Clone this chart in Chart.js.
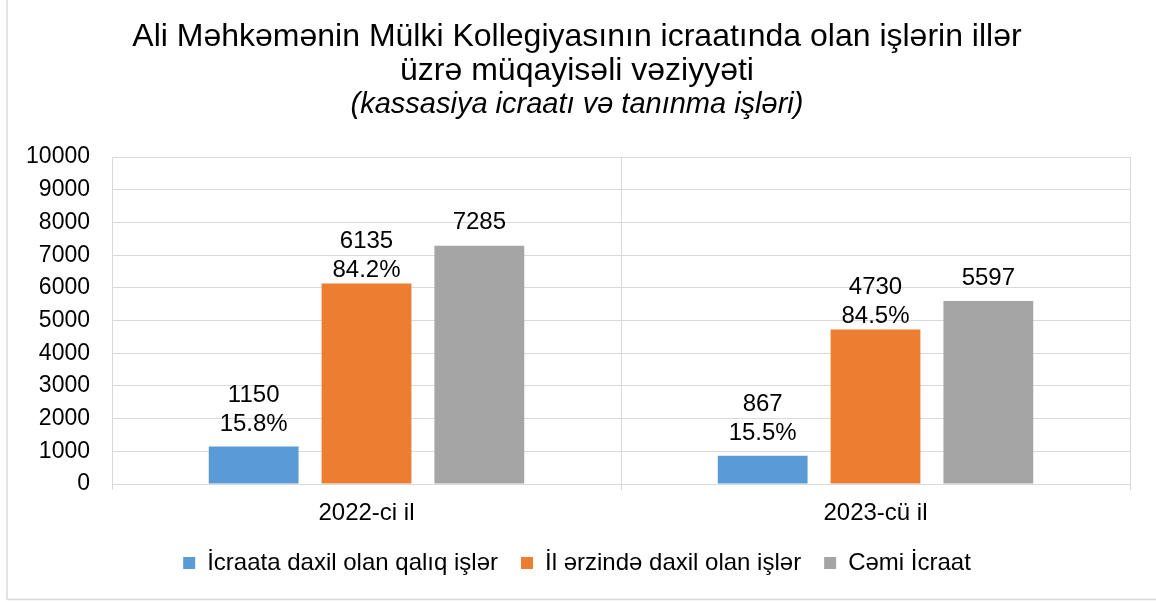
<!DOCTYPE html>
<html>
<head>
<meta charset="utf-8">
<script src="https://cdn.jsdelivr.net/npm/chart.js@4.4.1/dist/chart.umd.min.js"></script>
<style>
    html, body { margin: 0; padding: 0; background: #fff; }
    #wrap { width: 1156px; height: 602px; }
</style>
</head>
<body>
<div id="wrap"><canvas id="chart" width="1156" height="602"></canvas></div>
<script>
// ============================================
// Data
// ============================================
const categories = ['2022-ci il', '2023-cü il'];
const seriesNames = ['İcraata daxil olan qalıq işlər', 'İl ərzində daxil olan işlər', 'Cəmi İcraat'];
const remainingCases = [1150, 867];
const incomingCases = [6135, 4730];
const totalCases = [7285, 5597];
const remainingShare = ['15.8%', '15.5%'];
const incomingShare = ['84.2%', '84.5%'];
const yTicks = [0, 1000, 2000, 3000, 4000, 5000, 6000, 7000, 8000, 9000, 10000];

const FONT = '"Liberation Sans", Arial, sans-serif';
const GRID = '#d9d9d9';

/**
 * Value + share labels above each bar
 */
const barLabels = {
    id: 'barLabels',
    afterDatasetsDraw(chart) {
        const ctx = chart.ctx;
        ctx.save();
        ctx.font = '24px ' + FONT;
        ctx.fillStyle = '#000';
        ctx.textAlign = 'center';
        ctx.textBaseline = 'middle';
        chart.data.datasets.forEach((ds, di) => {
            chart.getDatasetMeta(di).data.forEach((bar, i) => {
                const lines = [String(ds.data[i])];
                if (ds.shares) lines.push(ds.shares[i]);
                const last = bar.y - ds.labelGap;
                lines.forEach((t, k) => {
                    ctx.fillText(t, bar.x, last - (lines.length - 1 - k) * 29);
                });
            });
        });
        ctx.restore();
    }
};

/**
 * Outer frame (left and bottom edges visible)
 */
const frame = {
    id: 'frame',
    afterDraw(chart) {
        const ctx = chart.ctx;
        ctx.save();
        ctx.strokeStyle = GRID;
        ctx.lineWidth = 1.5;
        ctx.beginPath();
        ctx.moveTo(7, 0);
        ctx.lineTo(7, 599.5);
        ctx.lineTo(1156, 599.5);
        ctx.stroke();
        ctx.restore();
    }
};

const datasets = [
    { label: seriesNames[0], data: remainingCases, shares: remainingShare, labelGap: 22, backgroundColor: '#5b9bd5' },
    { label: seriesNames[1], data: incomingCases, shares: incomingShare, labelGap: 13, backgroundColor: '#ed7d31' },
    { label: seriesNames[2], data: totalCases, labelGap: 23, backgroundColor: '#a5a5a5' }
];

new Chart(document.getElementById('chart').getContext('2d'), {
    type: 'bar',
    data: { labels: categories, datasets: datasets },
    options: {
        responsive: false,
        animation: false,
        layout: { padding: { left: 24, right: 26, top: 0, bottom: 17 } },
        datasets: { bar: { categoryPercentage: 0.665, barPercentage: 0.796 } },
        scales: {
            x: {
                grid: { color: GRID, lineWidth: 1, offset: true, tickLength: 6 },
                border: { color: GRID },
                ticks: { color: '#000', font: { family: FONT, size: 24 }, padding: 9 },
                afterFit: s => { s.height = 44; }
            },
            y: {
                min: 0,
                max: 10000,
                afterBuildTicks: s => { s.ticks = yTicks.map(v => ({ value: v })); },
                grid: { color: GRID, lineWidth: 1, drawTicks: false },
                border: { color: GRID },
                ticks: { color: '#000', font: { family: FONT, size: 23 }, padding: 22, callback: v => String(v) },
                afterFit: s => { s.width = 88; }
            }
        },
        plugins: {
            title: {
                display: true,
                text: ['Ali Məhkəmənin Mülki Kollegiyasının icraatında olan işlərin illər', 'üzrə müqayisəli vəziyyəti'],
                color: '#000',
                font: { family: FONT, size: 32, weight: 'normal', lineHeight: 1.07 },
                padding: { top: 20, bottom: 0 }
            },
            subtitle: {
                display: true,
                text: '(kassasiya icraatı və tanınma işləri)',
                color: '#000',
                font: { family: FONT, size: 29, style: 'italic', lineHeight: 1.16 },
                padding: { top: 0, bottom: 35 }
            },
            legend: {
                position: 'bottom',
                labels: {
                    color: '#000',
                    font: { family: FONT, size: 24 },
                    boxWidth: 12,
                    boxHeight: 12,
                    padding: 23,
                    useBorderRadius: false
                }
            },
            tooltip: { enabled: false }
        }
    },
    plugins: [barLabels, frame]
});
</script>
</body>
</html>
